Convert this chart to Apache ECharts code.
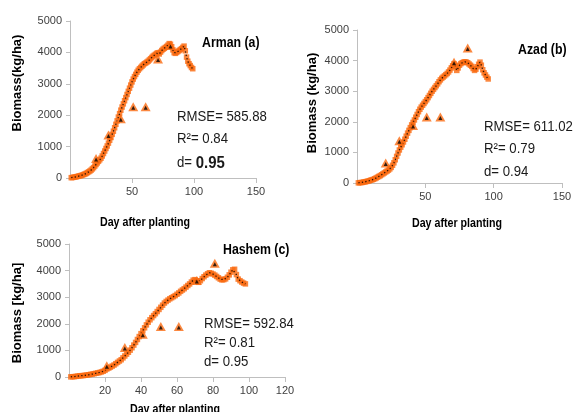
<!DOCTYPE html>
<html>
<head>
<meta charset="utf-8">
<script src="https://cdn.jsdelivr.net/npm/echarts@6/dist/echarts.min.js"></script>
<style>
  html, body { margin: 0; padding: 0; background: #fff; }
  #chart { width: 578px; height: 412px; }
</style>
</head>
<body>
<div id="chart"></div>
<script>
// Simulated daily biomass (kg/ha), one value per day starting at day 1
const simArman = [10,15,25,30,40,50,60,70,80,95,110,125,145,170,195,220,250,290,330,380,
  430,480,530,580,630,700,780,860,940,1020,1110,1200,1290,1390,1490,1600,1710,1820,1940,2050,
  2160,2260,2360,2460,2560,2660,2760,2860,2960,3060,3150,3230,3300,3370,3430,3480,3520,3560,3600,3640,
  3660,3690,3720,3760,3800,3840,3880,3910,3940,3970,3990,3950,4010,4060,4100,4130,4160,4190,4230,4280,
  4260,4180,4080,3990,3970,4000,4030,4060,4090,4120,4160,4200,4050,3850,3720,3640,3580,3520,3480];
const simAzad = [5,10,15,20,30,40,50,60,75,90,105,120,140,165,190,215,240,270,300,330,
  360,390,420,460,510,580,660,760,870,980,1080,1170,1250,1340,1430,1530,1630,1720,1810,1900,
  1980,2060,2150,2240,2330,2410,2480,2540,2600,2660,2720,2790,2860,2930,3000,3060,3120,3180,3240,3310,
  3370,3420,3460,3500,3540,3580,3630,3690,3760,3830,3900,3820,3680,3760,3850,3900,3930,3950,3960,3950,
  3930,3890,3850,3810,3740,3680,3720,3800,3880,3950,3850,3700,3600,3530,3460,3400];
const simHashem = [5,10,15,25,35,45,50,55,65,75,85,100,110,125,140,155,170,190,215,250,
  300,340,370,410,450,500,550,600,650,720,790,860,930,1010,1100,1200,1300,1410,1520,1630,
  1740,1850,1960,2060,2150,2230,2310,2380,2460,2540,2620,2700,2780,2840,2890,2940,2980,3020,3060,3110,
  3160,3220,3270,3320,3380,3440,3500,3570,3640,3660,3610,3560,3620,3700,3770,3830,3880,3920,3900,3870,
  3830,3780,3730,3680,3650,3660,3690,3750,3840,3940,4030,4050,3850,3680,3620,3570,3530,3500];

// Observed biomass samples
const obsDaysArman = [21, 31, 41, 51, 61, 71, 81];
const obsArman = [620, 1370, 1890, 2270, 2270, 3790, 4220];
const obsDaysAzad = [21, 31, 41, 51, 61, 71, 81];
const obsAzad = [650, 1380, 1880, 2160, 2160, 3950, 4410];
const obsDaysHashem = [21, 31, 41, 51, 61, 71, 81];
const obsHashem = [425, 1110, 1610, 1900, 1900, 3625, 4280];

// Axis ticks
const yTicks = [0, 1000, 2000, 3000, 4000, 5000];
const xTicksAB = [0, 50, 100, 150];
const xTicksC = [0, 20, 40, 60, 80, 100, 120];

// Panel captions and statistics
const panelNames = ['Arman (a)', 'Azad (b)', 'Hashem (c)'];
const rmse = ['585.88', '611.02', '592.84'];
const r2 = ['0.84', '0.79', '0.81'];
const dIndex = ['0.95', '0.94', '0.95'];
const yTitles = ['Biomass(kg/ha)', 'Biomass (kg/ha)', 'Biomass [kg/ha]'];
const xTitle = 'Day after planting';

const ORANGE = '#fa6a10';
const FONT = '"Liberation Sans", Arial, sans-serif';
const NARROW = 0.88; // horizontal squeeze for the annotation texts

const pairs = (vals) => vals.map((v, i) => [i + 1, v]);
const zip = (xs, ys) => xs.map((x, i) => [x, ys[i]]);

const grids = [
  { left: 70, top: 21, width: 186, height: 157 },
  { left: 357, top: 30, width: 205, height: 153 },
  { left: 69, top: 244, width: 216, height: 133 }
];

function xAxisFor(idx, ticks) {
  return {
    type: 'value', gridIndex: idx,
    min: ticks[0], max: ticks[ticks.length - 1], interval: ticks[1] - ticks[0],
    axisLine: { show: true, onZero: false, lineStyle: { color: '#bfbfbf', width: 1 } },
    axisTick: { show: true, length: 5, lineStyle: { color: '#bfbfbf' } },
    splitLine: { show: false },
    axisLabel: { showMinLabel: false, color: '#404040', fontSize: 11, fontFamily: FONT, margin: 8,
      formatter: (v) => String(v) }
  };
}
function yAxisFor(idx) {
  return {
    type: 'value', gridIndex: idx,
    min: yTicks[0], max: yTicks[yTicks.length - 1], interval: yTicks[1] - yTicks[0],
    axisLine: { show: true, lineStyle: { color: '#bfbfbf', width: 1 } },
    axisTick: { show: true, length: 4, lineStyle: { color: '#bfbfbf' } },
    splitLine: { show: false },
    axisLabel: { color: '#404040', fontSize: 11, fontFamily: FONT, margin: 8,
      formatter: (v) => String(v) }
  };
}

function panelSeries(idx, sim, obsX, obsY) {
  return [
    { type: 'scatter', xAxisIndex: idx, yAxisIndex: idx, data: pairs(sim),
      symbol: 'rect', symbolSize: 5.5, itemStyle: { color: ORANGE }, z: 2, silent: true },
    { type: 'line', xAxisIndex: idx, yAxisIndex: idx, data: pairs(sim),
      showSymbol: false, lineStyle: { color: '#2a1204', width: 1.3, type: [1.3, 2.2] }, z: 3, silent: true },
    { type: 'scatter', xAxisIndex: idx, yAxisIndex: idx, data: zip(obsX, obsY),
      symbol: 'triangle', symbolSize: [10, 9], itemStyle: { color: ORANGE }, z: 4, silent: true },
    { type: 'scatter', xAxisIndex: idx, yAxisIndex: idx, data: zip(obsX, obsY),
      symbol: 'triangle', symbolSize: [4, 4], symbolOffset: [0, 1], itemStyle: { color: '#000' }, z: 5, silent: true }
  ];
}

function txt(x, y, text, style, extra) {
  return Object.assign({
    type: 'text', x: x, y: y, scaleX: NARROW,
    style: Object.assign({ text: text, fill: '#000', font: '13px ' + FONT, textAlign: 'left', textVerticalAlign: 'middle' }, style || {})
  }, extra || {});
}

const statsPos = [[177, 117, 139, 163], [484, 127, 149, 172], [204, 324, 343, 362]];
const STAT_STYLE = { font: '15px ' + FONT, fill: '#1a1a1a' };
const graphics = [];
statsPos.forEach((p, i) => {
  graphics.push(txt(p[0], p[1], 'RMSE= ' + rmse[i], STAT_STYLE));
  graphics.push(txt(p[0], p[2], 'R²= ' + r2[i], STAT_STYLE));
  if (i === 0) {
    graphics.push({ type: 'text', x: p[0], y: p[3], scaleX: NARROW, style: {
      text: '{n|d= }{b|' + dIndex[i] + '}', textVerticalAlign: 'middle',
      rich: { n: { font: '15px ' + FONT, fill: '#1a1a1a' }, b: { font: 'bold 17px ' + FONT, fill: '#1a1a1a' } } } });
  } else {
    graphics.push(txt(p[0], p[3], 'd= ' + dIndex[i], STAT_STYLE));
  }
});
// panel captions
[[202, 43], [518, 50], [223, 250]].forEach((p, i) => {
  graphics.push(txt(p[0], p[1], panelNames[i], { font: 'bold 14px ' + FONT }));
});
// x-axis titles
[[145, 222], [457, 223], [175, 409]].forEach((p) => {
  graphics.push(txt(p[0], p[1], xTitle, { font: 'bold 13px ' + FONT, textAlign: 'center' }, { scaleX: 0.82 }));
});
// y-axis titles (rotated)
[[17, 83], [312, 103], [17, 313]].forEach((p, i) => {
  graphics.push(txt(p[0], p[1], yTitles[i], { font: 'bold 13px ' + FONT, textAlign: 'center' },
    { rotation: Math.PI / 2, scaleX: 1.0 }));
});

const chart = echarts.init(document.getElementById('chart'), null, { renderer: 'canvas' });
chart.setOption({
  animation: false,
  backgroundColor: '#fff',
  grid: grids,
  xAxis: [xAxisFor(0, xTicksAB), xAxisFor(1, xTicksAB), xAxisFor(2, xTicksC)],
  yAxis: [yAxisFor(0), yAxisFor(1), yAxisFor(2)],
  series: [].concat(
    panelSeries(0, simArman, obsDaysArman, obsArman),
    panelSeries(1, simAzad, obsDaysAzad, obsAzad),
    panelSeries(2, simHashem, obsDaysHashem, obsHashem)
  ),
  graphic: graphics
});
</script>
</body>
</html>
